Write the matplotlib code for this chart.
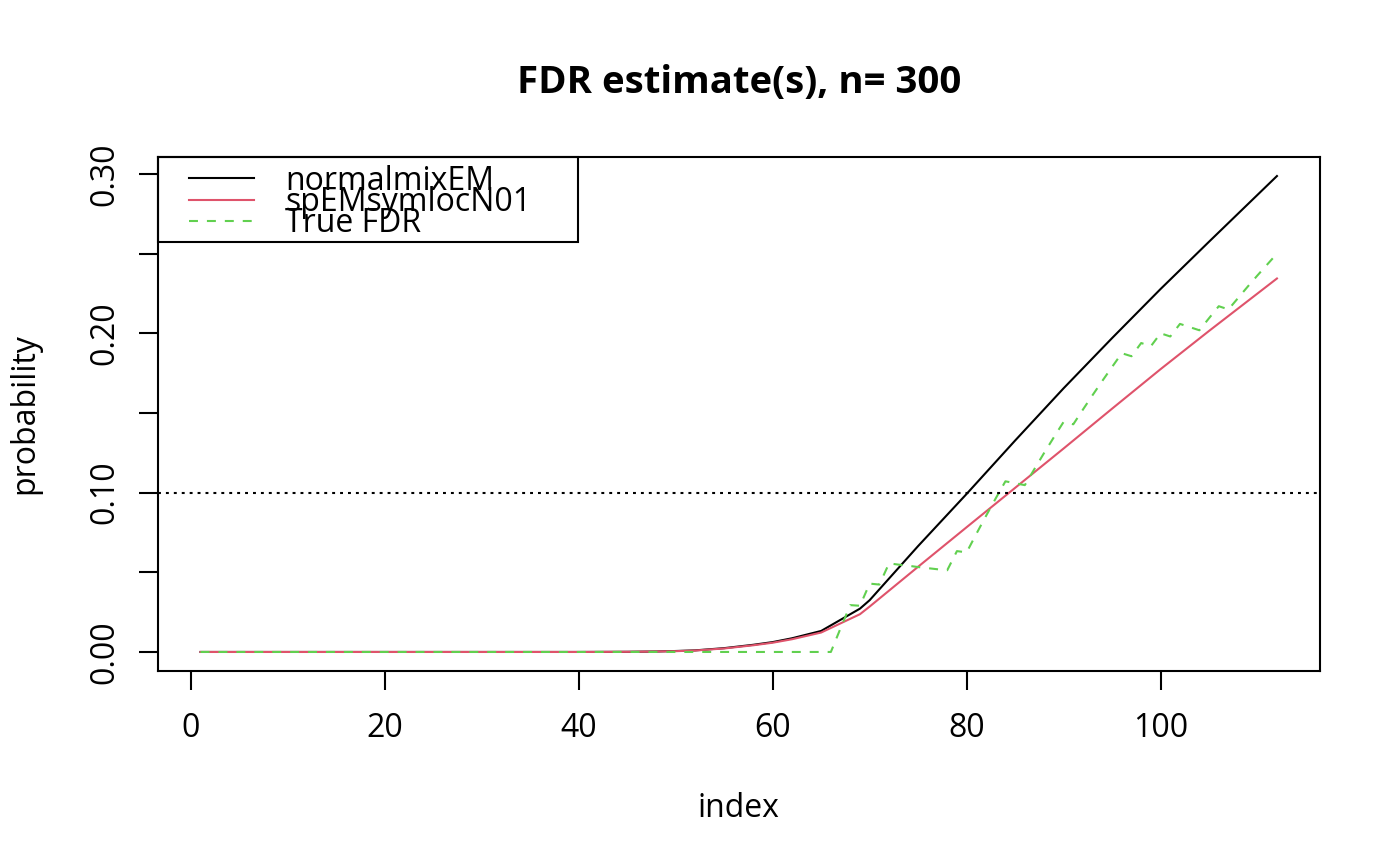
import numpy as np
import matplotlib
matplotlib.use('Agg')
import matplotlib.pyplot as plt
from matplotlib.patches import Rectangle

plt.rcParams['font.family'] = ['Open Sans', 'DejaVu Sans']

# FDR estimates (index -> probability)
est_idx = [1, 40, 45, 48, 50, 52, 55, 58, 60, 62, 65, 69, 70, 75, 80, 85, 90, 95, 100, 105, 112]
normalmix_fdr = [0.0, 0.0, 0.0001, 0.0003, 0.0006, 0.0010, 0.0024, 0.0045, 0.0062, 0.0086, 0.0132,
                 0.0272, 0.0325, 0.0665, 0.0992, 0.1327, 0.1655, 0.1970, 0.2278, 0.2575, 0.2987]
spem_fdr = [0.0, 0.0, 0.0001, 0.0003, 0.0005, 0.0009, 0.0022, 0.0042, 0.0058, 0.0080, 0.0122,
            0.0237, 0.0285, 0.0535, 0.0783, 0.1030, 0.1277, 0.1527, 0.1775, 0.2015, 0.2344]

true_idx = [1, 66] + list(range(67, 113))
true_fdr = [0.0, 0.0,
            0.0149, 0.0294, 0.0290, 0.0429, 0.0423, 0.0556, 0.0548, 0.0541, 0.0533, 0.0526,
            0.0519, 0.0513, 0.0633, 0.0625, 0.0741, 0.0854, 0.0964, 0.1071, 0.1059, 0.1047,
            0.1149, 0.1250, 0.1348, 0.1444, 0.1429, 0.1522, 0.1613, 0.1702, 0.1789, 0.1875,
            0.1856, 0.1939, 0.1919, 0.2000, 0.1980, 0.2059, 0.2039, 0.2019, 0.2095, 0.2170,
            0.2150, 0.2222, 0.2294, 0.2364, 0.2432, 0.2500]

threshold = 0.1
labels = ['normalmixEM', 'spEMsymlocN01', 'True FDR']
colors = ['black', '#DF536B', '#61D04F']

W, H = 1400, 866
fig = plt.figure(figsize=(W / 100, H / 100), dpi=100)
ax = fig.add_axes([157.5 / W, 1 - 671 / H, (1320 - 157.5) / W, (671 - 157) / H])

lw = 1.5
ax.plot(est_idx, normalmix_fdr, color=colors[0], lw=lw)
ax.plot(est_idx, spem_fdr, color=colors[1], lw=lw)
ax.plot(true_idx, true_fdr, color=colors[2], lw=lw, linestyle=(0, (4.3, 4.3)))
ax.axhline(threshold, color='black', lw=lw, linestyle=(0, (1.4, 2.4)))

# R style 4% axis extension
xmin, xmax = 1, 112
ymax = max(normalmix_fdr + spem_fdr + true_fdr)
ax.set_xlim(xmin - 0.04 * (xmax - xmin), xmax + 0.04 * (xmax - xmin))
ax.set_ylim(-0.04 * ymax, ymax * 1.04)

ax.set_xticks([0, 20, 40, 60, 80, 100])
yt = [0.0, 0.05, 0.10, 0.15, 0.20, 0.25, 0.30]
ax.set_yticks(yt)
ax.set_yticklabels(['0.00', '', '0.10', '', '0.20', '', '0.30'])

for s in ax.spines.values():
    s.set_linewidth(lw)
ax.tick_params(axis='both', direction='out', length=13.7, width=lw, labelsize=23)
ax.tick_params(axis='x', pad=16)
ax.tick_params(axis='y', pad=12.5)
for t in ax.get_yticklabels():
    t.set_rotation(90)
    t.set_va('center')

# legend box (topleft, R style, text overlapping)
ax.add_patch(Rectangle((0.0, 0.8352), 0.3615, 0.1648, transform=ax.transAxes,
                       fill=False, lw=lw, edgecolor='black', clip_on=False, zorder=5))
line_y = [0.9586, 0.9163, 0.8761]
styles = ['-', '-', (0, (4.3, 4.3))]
for y, lab, c, ls in zip(line_y, labels, colors, styles):
    ax.plot([0.0271, 0.0833], [y, y], transform=ax.transAxes, color=c, lw=lw,
            linestyle=ls, clip_on=False)
    ax.text(0.1100, y - 0.0222, lab, transform=ax.transAxes, fontsize=23,
            ha='left', va='baseline')

fig.text(738.75 / W, 1 - 93.3 / H, 'FDR estimate(s), n= 300', fontsize=27.6,
         fontweight='bold', ha='center', va='baseline')
fig.text(738.75 / W, 1 - 817 / H, 'index', fontsize=23, ha='center', va='baseline')
fig.text(33.3 / W, 1 - 414 / H, 'probability', fontsize=23, rotation=90,
         rotation_mode='anchor', ha='center', va='baseline')

fig.savefig('out.png', dpi=100)
